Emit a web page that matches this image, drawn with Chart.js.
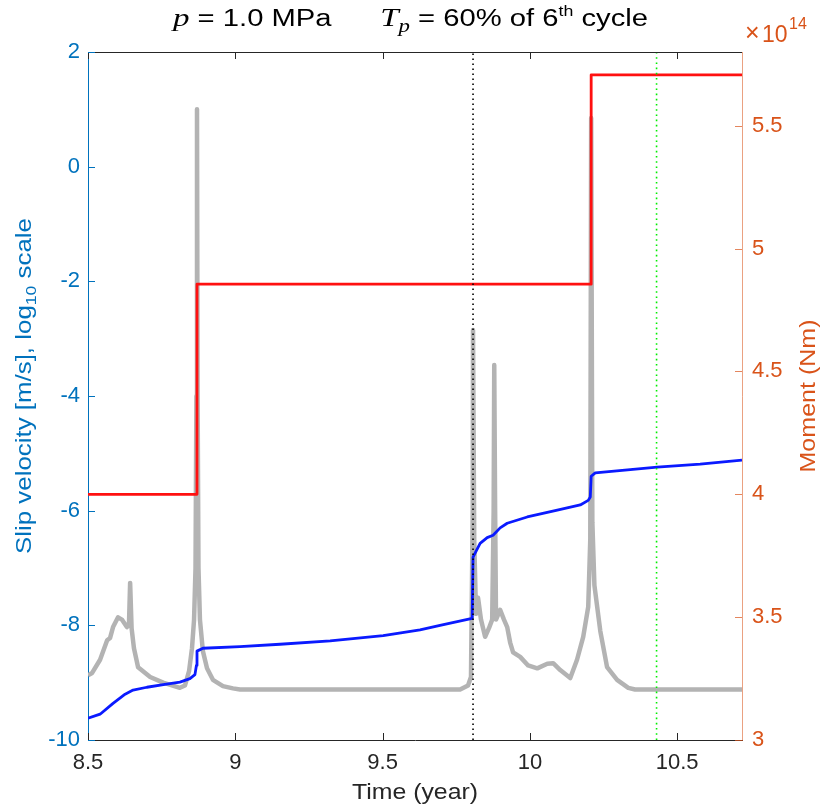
<!DOCTYPE html>
<html>
<head>
<meta charset="utf-8">
<script src="https://cdn.jsdelivr.net/npm/chart.js@4.4.1/dist/chart.umd.min.js"></script>
<style>
  html, body { margin: 0; padding: 0; background: #fff; }
</style>
</head>
<body>
<canvas id="slipChart" width="821" height="809"></canvas>
<script>
// slip velocity (log10 m/s), gray
const slipTime = [8.5, 8.514, 8.541, 8.565, 8.575, 8.585, 8.602, 8.615, 8.632, 8.639, 8.643, 8.648, 8.656, 8.670, 8.711, 8.755, 8.812, 8.829, 8.843, 8.853, 8.860, 8.865, 8.868, 8.870, 8.872, 8.875, 8.880, 8.890, 8.904, 8.924, 8.958, 8.992, 9.016,
  9.763, 9.790, 9.800, 9.806, 9.807, 9.811, 9.817, 9.824, 9.834, 9.848, 9.861, 9.872, 9.877, 9.879, 9.882, 9.885, 9.899, 9.912, 9.923, 9.933, 9.943, 9.967, 9.994, 10.025, 10.059, 10.079, 10.103, 10.137, 10.160, 10.181, 10.198, 10.205, 10.208, 10.212, 10.219, 10.239, 10.262, 10.296, 10.334, 10.357, 10.72];
const slipLogV = [-8.87, -8.83, -8.6, -8.26, -8.22, -8.03, -7.86, -7.9, -8.03, -8.0, -7.26, -8.05, -8.4, -8.73, -8.9, -9.0, -9.09, -9.05, -8.8, -8.4, -7.9, -7.0, -4.0, 1.0, -4.0, -7.0, -7.9, -8.45, -8.75, -8.95, -9.06, -9.1, -9.12,
  -9.12, -9.05, -8.9, -6.0, -2.85, -6.5, -7.8, -7.52, -7.9, -8.2, -8.05, -7.9, -6.0, -3.46, -6.0, -7.9, -7.73, -7.9, -8.03, -8.3, -8.47, -8.55, -8.7, -8.75, -8.67, -8.66, -8.78, -8.92, -8.6, -8.2, -7.68, -6.5, 0.85, -6.2, -7.3, -8.1, -8.73, -8.95, -9.09, -9.12, -9.12];

// blue curve (left axis)
const cumTime = [8.5, 8.541, 8.585, 8.626, 8.653, 8.700, 8.761, 8.812, 8.846, 8.863, 8.868, 8.870, 8.890, 9.016, 9.152, 9.322, 9.502, 9.627, 9.695, 9.804, 9.807, 9.831, 9.855, 9.875, 9.899, 9.923, 9.991, 10.093, 10.171, 10.198, 10.205, 10.208, 10.222, 10.432, 10.578, 10.72];
const cumVal = [-9.62, -9.55, -9.36, -9.2, -9.13, -9.08, -9.03, -8.99, -8.93, -8.86, -8.7, -8.45, -8.40, -8.37, -8.33, -8.27, -8.18, -8.08, -8.0, -7.88, -6.81, -6.57, -6.47, -6.43, -6.3, -6.22, -6.11, -5.99, -5.9, -5.82, -5.76, -5.4, -5.34, -5.24, -5.19, -5.12];

// moment (x1e14 Nm), red step
const momentTime = [8.5, 8.87, 10.208, 10.72];
const momentVal = [4.0, 4.855, 5.707, 5.707];

// vertical markers
const markerTimes = [9.807, 10.43];

const xTicks = [8.5, 9, 9.5, 10, 10.5];
const leftTicks = [-10, -8, -6, -4, -2, 0, 2];
const rightTicks = [3, 3.5, 4, 4.5, 5, 5.5];

const BLUE = '#0072BD';
const ORANGE = '#D95319';
const DARK = '#262626';
const SANS = '"Liberation Sans", Arial, Helvetica, sans-serif';
const SERIF = '"Liberation Serif", "Times New Roman", serif';

function pts(xs, ys) {
  return xs.map((x, i) => ({ x: x, y: ys[i] }));
}

// draws mixed-font text centred on cx, stretched to span width w
function drawRichFit(ctx, segs, cx, y, w) {
  let total = 0;
  segs.forEach(s => { ctx.font = s.font; total += ctx.measureText(s.text).width; });
  ctx.save();
  ctx.translate(cx - w / 2, y);
  ctx.scale(w / total, 1);
  let x = 0;
  segs.forEach(s => {
    ctx.font = s.font;
    ctx.fillStyle = s.color;
    ctx.fillText(s.text, x, s.dy || 0);
    x += ctx.measureText(s.text).width;
  });
  ctx.restore();
}

const decor = {
  id: 'decor',
  afterDraw(chart) {
    const ctx = chart.ctx;
    const a = chart.chartArea;
    const xs = chart.scales.x, yl = chart.scales.y, yr = chart.scales.y2;
    const tl = 7;
    ctx.save();
    ctx.lineWidth = 1;
    // top box line
    ctx.strokeStyle = DARK;
    ctx.beginPath();
    ctx.moveTo(a.left, a.top + 0.5);
    ctx.lineTo(a.right, a.top + 0.5);
    ctx.stroke();
    // inward ticks
    xTicks.forEach(v => {
      const px = Math.round(xs.getPixelForValue(v)) + 0.5;
      ctx.beginPath();
      ctx.moveTo(px, a.bottom); ctx.lineTo(px, a.bottom - tl);
      ctx.moveTo(px, a.top); ctx.lineTo(px, a.top + tl);
      ctx.stroke();
    });
    ctx.strokeStyle = BLUE;
    leftTicks.forEach(v => {
      const py = Math.round(yl.getPixelForValue(v)) + 0.5;
      ctx.beginPath(); ctx.moveTo(a.left, py); ctx.lineTo(a.left + tl, py); ctx.stroke();
    });
    ctx.strokeStyle = 'rgba(217,83,25,0.7)';
    rightTicks.forEach(v => {
      const py = Math.round(yr.getPixelForValue(v)) + 0.5;
      ctx.beginPath(); ctx.moveTo(a.right, py); ctx.lineTo(a.right - tl, py); ctx.stroke();
    });

    ctx.textBaseline = 'alphabetic';
    ctx.textAlign = 'left';
    // title
    drawRichFit(ctx, [
      { text: 'p', font: 'italic 26px ' + SERIF, color: '#000' },
      { text: ' = 1.0 MPa', font: '23px ' + SANS, color: '#000' },
      { text: '      ', font: '23px ' + SANS, color: '#000' },
      { text: 'T', font: 'italic 26px ' + SERIF, color: '#000' },
      { text: 'p', font: 'italic 18px ' + SERIF, color: '#000', dy: 6 },
      { text: ' = 60% of 6', font: '23px ' + SANS, color: '#000' },
      { text: 'th', font: '14px ' + SANS, color: '#000', dy: -10 },
      { text: ' cycle', font: '23px ' + SANS, color: '#000' }
    ], 410.5, 26, 475);

    // x axis title
    drawRichFit(ctx, [{ text: 'Time (year)', font: '22px ' + SANS, color: DARK }], 415, 799, 126);

    // left axis title
    ctx.save();
    ctx.translate(31, 386);
    ctx.rotate(-Math.PI / 2);
    drawRichFit(ctx, [
      { text: 'Slip velocity [m/s], log', font: '22px ' + SANS, color: BLUE },
      { text: '10', font: '15px ' + SANS, color: BLUE, dy: 5 },
      { text: ' scale', font: '22px ' + SANS, color: BLUE }
    ], 0, 0, 336);
    ctx.restore();

    // right axis title
    ctx.save();
    ctx.translate(815, 396);
    ctx.rotate(-Math.PI / 2);
    drawRichFit(ctx, [{ text: 'Moment (Nm)', font: '22px ' + SANS, color: ORANGE }], 0, 0, 153);
    ctx.restore();

    // exponent
    ctx.fillStyle = ORANGE;
    ctx.font = '25px ' + SANS;
    ctx.fillText('\u00d7', 745, 41);
    ctx.font = '23px ' + SANS;
    ctx.fillText('10', 762, 42);
    ctx.font = '16px ' + SANS;
    ctx.fillText('14', 789, 29);
    ctx.restore();
  }
};

new Chart(document.getElementById('slipChart').getContext('2d'), {
  type: 'line',
  data: {
    datasets: [
      {
        data: pts(slipTime, slipLogV),
        yAxisID: 'y',
        borderColor: '#b3b3b3',
        borderWidth: 4.5,
        order: 5
      },
      {
        data: pts(cumTime, cumVal),
        yAxisID: 'y',
        borderColor: '#0a1aff',
        borderWidth: 2.8,
        order: 3
      },
      {
        data: pts(momentTime, momentVal),
        yAxisID: 'y2',
        borderColor: '#ff1010',
        borderWidth: 2.8,
        stepped: 'before',
        order: 2
      },
      {
        data: [{ x: markerTimes[0], y: -10 }, { x: markerTimes[0], y: 2 }],
        yAxisID: 'y',
        borderColor: '#000',
        borderWidth: 1.6,
        borderDash: [1.6, 3.4],
        order: 1
      },
      {
        data: [{ x: markerTimes[1], y: -10 }, { x: markerTimes[1], y: 2 }],
        yAxisID: 'y',
        borderColor: '#00ee00',
        borderWidth: 1.6,
        borderDash: [1.6, 3.6],
        order: 1
      }
    ]
  },
  options: {
    responsive: false,
    animation: false,
    layout: { padding: { top: 52, left: 0, right: 0, bottom: 0 } },
    elements: {
      point: { radius: 0 },
      line: { tension: 0, borderCapStyle: 'butt', borderJoinStyle: 'round' }
    },
    plugins: {
      legend: { display: false },
      tooltip: { enabled: false },
      title: { display: false }
    },
    scales: {
      x: {
        type: 'linear',
        min: 8.5,
        max: 10.72,
        afterBuildTicks: s => { s.ticks = xTicks.map(v => ({ value: v })); },
        afterFit: s => { s.height = 69; },
        grid: { display: false, drawTicks: false },
        border: { display: true, color: DARK, width: 1 },
        ticks: {
          color: DARK,
          font: { family: SANS, size: 22 },
          padding: 10,
          maxRotation: 0,
          callback: v => String(v)
        }
      },
      y: {
        type: 'linear',
        position: 'left',
        min: -10,
        max: 2,
        afterBuildTicks: s => { s.ticks = leftTicks.map(v => ({ value: v })); },
        afterFit: s => { s.width = 88; },
        grid: { display: false, drawTicks: false },
        border: { display: true, color: BLUE, width: 1 },
        ticks: {
          color: BLUE,
          font: { family: SANS, size: 22 },
          padding: 8,
          callback: v => String(v)
        }
      },
      y2: {
        type: 'linear',
        position: 'right',
        min: 3,
        max: 5.8,
        afterBuildTicks: s => { s.ticks = rightTicks.map(v => ({ value: v })); },
        afterFit: s => { s.width = 79; },
        grid: { display: false, drawTicks: false },
        border: { display: true, color: 'rgba(217,83,25,0.55)', width: 1 },
        ticks: {
          color: ORANGE,
          font: { family: SANS, size: 22 },
          padding: 10,
          callback: v => String(v)
        }
      }
    }
  },
  plugins: [decor]
});
</script>
</body>
</html>
